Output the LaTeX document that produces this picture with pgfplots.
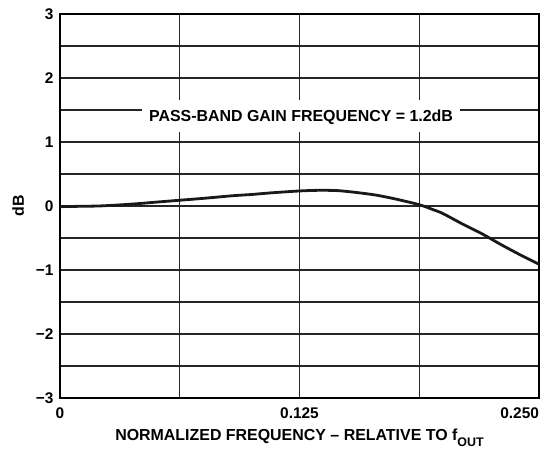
\documentclass[border=0pt]{standalone}
\usepackage{pgfplots}
\pgfplotsset{compat=1.18}
\usepackage{fontspec}
\setmainfont{Liberation Sans}
\begin{document}
\begin{tikzpicture}[x=1bp,y=1bp]
\path[use as bounding box] (-60bp,-51bp) rectangle (498bp,398bp);
\begin{axis}[
  at={(0,0)}, anchor=south west,
  scale only axis, width=479bp, height=384bp,
  xmin=0, xmax=0.25, ymin=-3, ymax=3,
  xtick={0,0.125,0.25},
  xticklabels={0,0.125,\llap{0.250}},
  ytick={-3,-2,-1,0,1,2,3},
  yticklabels={−3,−2,−1,0,1,2,3},
  minor xtick={0.0625,0.1875},
  minor ytick={-2.5,-1.5,-0.5,0.5,1.5,2.5},
  grid=both,
  major tick length=0pt, minor tick length=0pt,
  major grid style={line width=1.1bp, black!85},
  minor grid style={line width=1.1bp, black!85},
  axis line style={line width=2.2bp, black},
  tick label style={font=\fontsize{15.5}{17}\selectfont\bfseries},
  xticklabel style={yshift=-6bp},
  yticklabel style={xshift=-3bp},
  /pgf/number format/assume math mode=true,
  xlabel={NORMALIZED FREQUENCY -- RELATIVE TO f\raisebox{-0.35em}{\fontsize{12.5}{12.5}\selectfont OUT}},
  ylabel={dB},
  label style={font=\fontsize{16}{18}\selectfont\bfseries},
  xlabel style={yshift=-4bp},
  ylabel style={yshift=5bp},
]
\addplot[line width=2.8bp, black!90, smooth] coordinates {
(0,-0.01) (0.01,-0.005) (0.02,0.0) (0.03,0.015) (0.04,0.035) (0.05,0.06)
(0.0625,0.09) (0.075,0.12) (0.09,0.16) (0.1,0.18) (0.11,0.205) (0.125,0.235)
(0.135,0.245) (0.145,0.24) (0.155,0.21) (0.165,0.17) (0.175,0.11)
(0.1875,0.02) (0.195,-0.06) (0.2,-0.12) (0.21,-0.28) (0.22,-0.43)
(0.23,-0.6) (0.24,-0.76) (0.25,-0.91)
};
\node[fill=white, inner xsep=7bp, inner ysep=10bp, text height=11.5bp, text depth=0bp,
  font=\fontsize{16}{18}\selectfont\bfseries] at (axis cs:0.1258,1.406)
  {PASS-BAND GAIN FREQUENCY = 1.2dB};
\end{axis}
\end{tikzpicture}
\end{document}
